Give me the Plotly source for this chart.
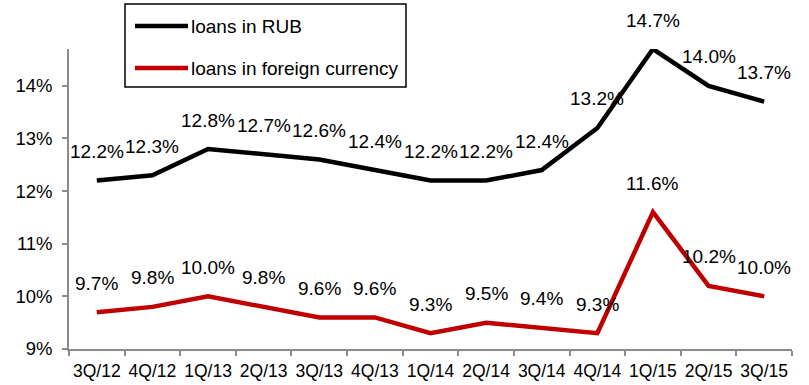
import plotly.graph_objects as go

quarters = ["3Q/12", "4Q/12", "1Q/13", "2Q/13", "3Q/13", "4Q/13", "1Q/14",
            "2Q/14", "3Q/14", "4Q/14", "1Q/15", "2Q/15", "3Q/15"]
rub_rates = [12.2, 12.3, 12.8, 12.7, 12.6, 12.4, 12.2, 12.2, 12.4, 13.2, 14.7, 14.0, 13.7]
fx_rates = [9.7, 9.8, 10.0, 9.8, 9.6, 9.6, 9.3, 9.5, 9.4, 9.3, 11.6, 10.2, 10.0]
y_ticks = [9, 10, 11, 12, 13, 14]

series = [
    ("loans in RUB", rub_rates, "#000000"),
    ("loans in foreign currency", fx_rates, "#C00000"),
]

FONT = "Liberation Sans, Arial, sans-serif"
W, H = 809, 385
ML, MR, MT, MB = 69, 17, 49, 36
PW, PH = W - ML - MR, H - MT - MB


def px_x(p):
    return (p - ML) / PW


def px_y(p):
    return (H - MB - p) / PH


fig = go.Figure()
annotations = []
for name, vals, color in series:
    fig.add_trace(go.Scatter(
        x=quarters, y=vals, name=name, mode="lines",
        line=dict(color=color, width=4.5), showlegend=False,
    ))
    for q, v in zip(quarters, vals):
        annotations.append(dict(
            x=q, y=v, text=f"{v:.1f}%", showarrow=False, yshift=29,
            font=dict(family=FONT, size=19, color="#000000"),
        ))

# legend box drawn in plot-paper coordinates
shapes = [dict(type="rect", xref="paper", yref="paper",
               x0=px_x(125), x1=px_x(406), y0=px_y(87), y1=px_y(4),
               line=dict(color="#000000", width=1.5), fillcolor="white", layer="above")]
for i, (name, vals, color) in enumerate(series):
    yy = 26 + i * 42
    shapes.append(dict(type="line", xref="paper", yref="paper",
                       x0=px_x(135), x1=px_x(188), y0=px_y(yy), y1=px_y(yy),
                       line=dict(color=color, width=4.5), layer="above"))
    annotations.append(dict(
        xref="paper", yref="paper", x=px_x(189), y=px_y(yy), text=name,
        showarrow=False, xanchor="left", yanchor="middle",
        font=dict(family=FONT, size=19, color="#000000"),
    ))

axis_gray = "#8C8C8C"
fig.update_layout(
    width=W, height=H,
    margin=dict(l=ML, r=MR, t=MT, b=MB, pad=0),
    paper_bgcolor="white", plot_bgcolor="white",
    font=dict(family=FONT, color="#000000"),
    shapes=shapes, annotations=annotations,
    xaxis=dict(
        type="category", range=[-0.5, len(quarters) - 0.5],
        showgrid=False, showline=True, linecolor=axis_gray, linewidth=1.5,
        ticks="outside", tickson="boundaries", ticklen=5, tickcolor=axis_gray,
        tickwidth=1.5, tickfont=dict(size=17.5), tickangle=0, automargin=False,
        zeroline=False, ticklabelstandoff=5,
    ),
    yaxis=dict(
        range=[9, 14.7], tickvals=y_ticks, ticktext=[f"{t}%" for t in y_ticks],
        showgrid=False, showline=True, linecolor=axis_gray, linewidth=1.5,
        ticks="outside", ticklen=5, tickcolor=axis_gray, tickwidth=1.5,
        tickfont=dict(size=18.5), automargin=False, zeroline=False,
        ticklabelstandoff=6,
    ),
)

fig.write_html("out.html")
